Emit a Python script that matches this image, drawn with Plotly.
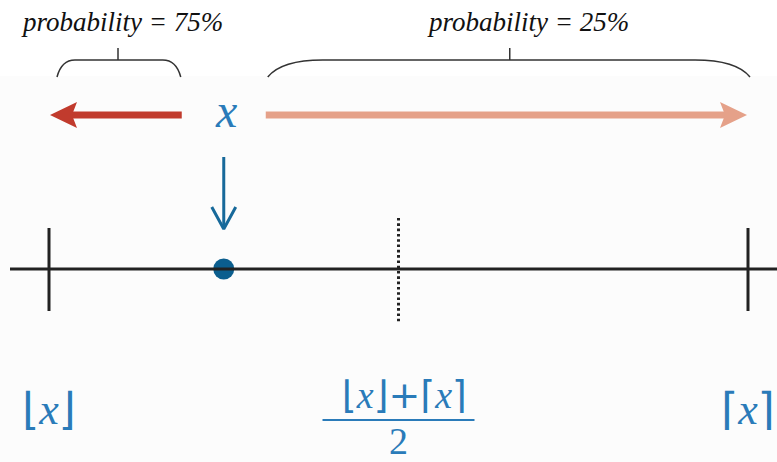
import plotly.graph_objects as go

# ---- data ----
floor_val = 0.0          # ⌊x⌋
ceil_val = 1.0           # ⌈x⌉
x_val = 0.25             # x
p_down = 75              # probability of rounding down (%)
p_up = 25                # probability of rounding up (%)
floor_label = "⌊x⌋"
ceil_label = "⌈x⌉"
x_label = "x"

mid_val = (floor_val + ceil_val) / 2
span = ceil_val - floor_val
PX = 699.0 / span        # pixels per unit on the x axis
def off(px):
    return px / PX

X_RANGE = [floor_val - off(49), ceil_val + off(29)]

BLUE_TXT = "#2a7bb9"
BLUE_DOT = "#0b5e8e"
BLUE_ARR = "#17699a"
RED = "#c13b2d"
SALMON = "#e5a189"
INK = "#222222"
BRACE = "#333333"
SERIF = "Liberation Serif"

fig = go.Figure()

shapes = [dict(type="rect", xref="paper", yref="y", x0=0, x1=1, y0=76, y1=462,
               fillcolor="#fcfcfc", line=dict(width=0), layer="below")]

# number line
Y0 = 269
shapes.append(dict(type="line", x0=floor_val - off(39), x1=X_RANGE[1], y0=Y0, y1=Y0,
                   line=dict(color=INK, width=3)))
for v in (floor_val, ceil_val):
    shapes.append(dict(type="line", x0=v, x1=v, y0=228, y1=311, line=dict(color=INK, width=3)))
shapes.append(dict(type="line", x0=mid_val, x1=mid_val, y0=218, y1=323,
                   line=dict(color=INK, width=3, dash="2.6px,2.7px")))

# red arrow (round down)
ya = 115
r_tip = floor_val + off(1)
r_start = x_val - off(42)
shapes.append(dict(type="line", x0=r_start, x1=r_tip + off(22), y0=ya, y1=ya,
                   line=dict(color=RED, width=7)))
shapes.append(dict(type="path",
                   path=f"M {r_tip},{ya} L {r_tip+off(27)},{ya-13} L {r_tip+off(22)},{ya} L {r_tip+off(27)},{ya+13} Z",
                   fillcolor=RED, line=dict(width=0)))
# salmon arrow (round up)
s_tip = ceil_val - off(1)
s_start = x_val + off(42)
shapes.append(dict(type="line", x0=s_start, x1=s_tip - off(22), y0=ya, y1=ya,
                   line=dict(color=SALMON, width=7)))
shapes.append(dict(type="path",
                   path=f"M {s_tip},{ya} L {s_tip-off(27)},{ya-13} L {s_tip-off(22)},{ya} L {s_tip-off(27)},{ya+13} Z",
                   fillcolor=SALMON, line=dict(width=0)))

# braces
def brace(x0, x1, xm, r):
    yb, yt, yc = 77, 60, 48
    return (f"M {x0},{yb} Q {x0+off(r*0.25)},{yt} {x0+off(r)},{yt} L {xm},{yt} L {xm},{yc} "
            f"M {xm},{yt} L {x1-off(r)},{yt} Q {x1-off(r*0.25)},{yt} {x1},{yb}")
shapes.append(dict(type="path", path=brace(floor_val + off(8), x_val - off(43), floor_val + off(69), 18),
                   line=dict(color=BRACE, width=1.5)))
shapes.append(dict(type="path", path=brace(x_val + off(44), ceil_val + off(2), x_val + off(286), 55),
                   line=dict(color=BRACE, width=1.5)))

# blue down arrow
shapes.append(dict(type="line", x0=x_val, x1=x_val, y0=157, y1=228, line=dict(color=BLUE_ARR, width=3)))
fig.add_trace(go.Scatter(x=[x_val - off(12), x_val, x_val + off(12)], y=[207, 229, 207],
                         mode="lines", line=dict(color=BLUE_ARR, width=3), hoverinfo="skip",
                         showlegend=False))
# fraction bar
shapes.append(dict(type="line", x0=mid_val - off(76), x1=mid_val + off(76), y0=420, y1=420,
                   line=dict(color=BLUE_TXT, width=2)))

# point x
fig.add_trace(go.Scatter(x=[x_val], y=[Y0], mode="markers",
                         marker=dict(size=21, color=BLUE_DOT), showlegend=False, hoverinfo="skip"))

def bracket_text(s):
    out = ""
    for ch in s:
        if ch == "x":
            out += "<i>x</i>"
        else:
            out += f"<span style='font-family:DejaVu Sans'>{ch}</span>"
    return out

ann = []
ann.append(dict(x=floor_val + off(73), y=22, text=f"<i>probability = {p_down}%</i>",
                font=dict(family=SERIF, size=27, color="#111")))
ann.append(dict(x=x_val + off(304), y=22, text=f"<i>probability = {p_up}%</i>",
                font=dict(family=SERIF, size=27, color="#111")))
ann.append(dict(x=x_val + off(2), y=110, text=f"<i>{x_label}</i>",
                font=dict(family=SERIF, size=48, color=BLUE_TXT)))
ann.append(dict(x=floor_val, y=408, text=bracket_text(floor_label),
                font=dict(family=SERIF, size=44, color=BLUE_TXT)))
ann.append(dict(x=ceil_val, y=408, text=bracket_text(ceil_label),
                font=dict(family=SERIF, size=44, color=BLUE_TXT)))
ann.append(dict(x=mid_val + off(6), y=395, text=bracket_text(floor_label + "+" + ceil_label),
                font=dict(family=SERIF, size=38, color=BLUE_TXT)))
ann.append(dict(x=mid_val, y=441, text="2",
                font=dict(family=SERIF, size=38, color=BLUE_TXT)))
for a in ann:
    a.update(xref="x", yref="y", showarrow=False, xanchor="center", yanchor="middle")

fig.update_layout(
    width=777, height=462,
    margin=dict(l=0, r=0, t=0, b=0),
    paper_bgcolor="white", plot_bgcolor="white",
    shapes=shapes, annotations=ann, showlegend=False,
    xaxis=dict(range=X_RANGE, visible=False, fixedrange=True),
    yaxis=dict(range=[462, 0], visible=False, fixedrange=True),
)
fig.write_html("out.html", config={"displayModeBar": False},
               post_script="document.body.style.margin='0';")
